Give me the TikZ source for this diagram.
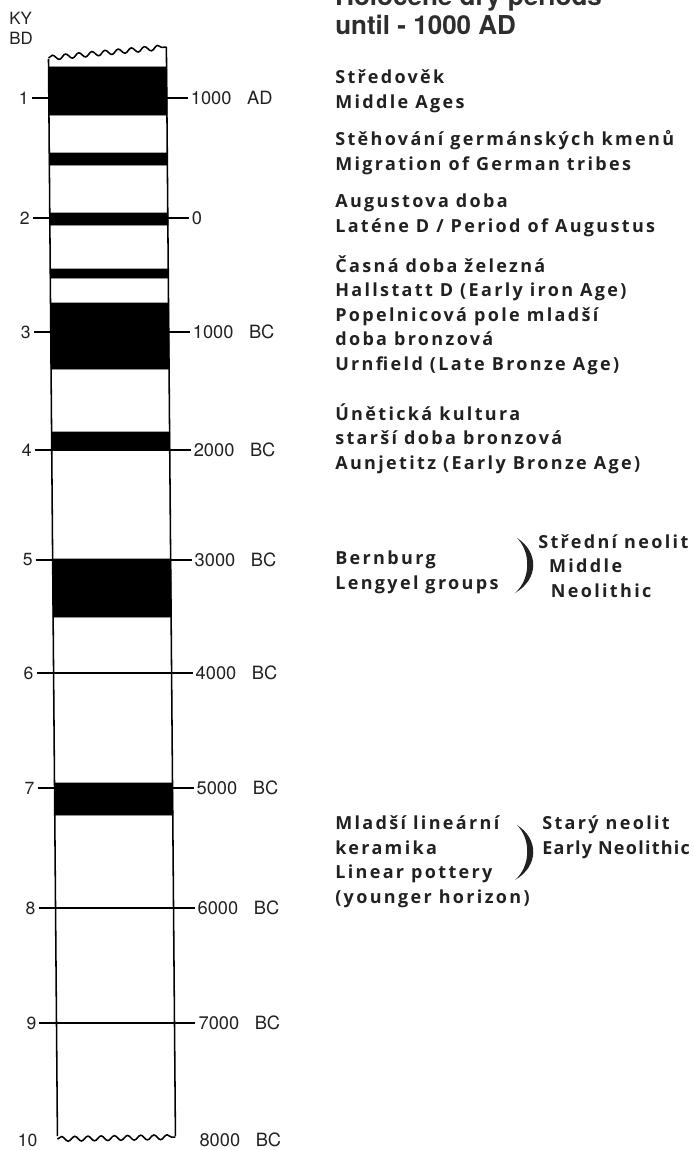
\documentclass[tikz,border=0pt]{standalone}
\usepackage{fontspec}
\setmainfont{TeX Gyre Heros}
\newfontfamily\periodfont{Open Sans}[LetterSpace=13]
\newfontfamily\stagefont{Open Sans}[LetterSpace=7]
\usetikzlibrary{decorations.pathmorphing}
\definecolor{inkgray}{gray}{0.13}
\tikzset{column/.style={draw=black,line width=1.1pt}}
\tikzset{band/.style={fill=black,draw=black,line width=0.6pt}}
\tikzset{tick/.style={draw=black,line width=0.9pt}}
\tikzset{wavy/.style={column,decorate,
                      decoration={snake,segment length=0.33cm,amplitude=0.06cm}}}
\tikzset{kylabel/.style={anchor=east,inner sep=2pt,text=inkgray,
                         font=\fontsize{12.5}{15}\selectfont}}
\tikzset{datelabel/.style={anchor=west,inner sep=2pt,text=inkgray,
                           font=\fontsize{13}{15}\selectfont}}
% base west of a block sits on the baseline of its last line
\tikzset{period/.style={anchor=base west,inner sep=0pt,align=left,text=inkgray,
                        font=\periodfont\bfseries\fontsize{12.8}{17.4}\selectfont}}
\tikzset{bracket/.style={fill=inkgray}}
\newcommand{\closebracket}{\fill[bracket] (0,0) .. controls (22,14) and (22,41) .. (-2,55)
                                .. controls (14,41) and (14,14) .. (0,0) -- cycle;}

\begin{document}
\begin{tikzpicture}[x=0.025cm,y=-0.025cm]
    \useasboundingbox (0,0) rectangle (693,1150);
    % Title, its first line cut by the page edge
    \node[anchor=base west,inner sep=0pt,align=left,text=black!82,
          font=\bfseries\fontsize{18.5}{21.3}\selectfont] (title) at (335,35)
          {Holocene dry periods\\until - 1000 AD};
    % Axis caption
    \node[anchor=north west,inner sep=0pt,align=left,text=inkgray,
          font=\fontsize{12}{14.5}\selectfont] (kybd) at (9,12) {KY\\BD};
    % Column, leaning a little to the right going down
    \begin{scope}[xslant=-0.0083]
        % Dry periods as black bands
        \foreach \t/\b in {67/115,153/165,213/225,269/278,303/369,432/450,559/617,783/815}{%
              \filldraw[band] (48,\t) rectangle (166,\b);
            }
        % Sides and torn ends
        \draw[column] (48,59) -- (48,1136);
        \draw[column] (166,47) -- (166,1136);
        \draw[wavy] (48,58) -- (166,47);
        \draw[wavy] (48,1139) -- (166,1137);
        % Thousands of years BP against calendar dates
        \foreach \y/\n/\e [count=\k] in {98/1000/AD,218/0/{},332/1000/BC,450/2000/BC,
                                         560/3000/BC,673/4000/BC,788/5000/BC,908/6000/BC,
                                         1023/7000/BC}{%
              \node[kylabel] (ky\k) at (31,\y) {\k};
              \node[datelabel] (date\k) at (187,\y) {\n\hspace{0.85em}\e};
              \draw[tick] (ky\k) -- (date\k);
            }
        \node[kylabel] (ky10) at (31,1140) {10};
        \node[datelabel] (date10) at (187,1140) {8000\hspace{0.85em}BC};
    \end{scope}
    % Periods and cultures
    \node[period] (medieval) at (335,108) {Středověk\\Middle Ages};
    \node[period] (migration) at (335,170) {Stěhování germánských kmenů\\Migration of German tribes};
    \node[period] (augustus) at (335,232) {Augustova doba\\Laténe D / Period of Augustus};
    \node[period] (hallstatt) at (335,370) {Časná doba železná\\Hallstatt D (Early iron Age)\\%
                                            Popelnicová pole mladší\\doba bronzová\\Urnfield (Late Bronze Age)};
    \node[period] (aunjetitz) at (335,469) {Únětická kultura\\starší doba bronzová\\Aunjetitz (Early Bronze Age)};
    \node[period] (lengyel) at (335,589) {Bernburg\\Lengyel groups};
    \node[period] (midneo) at (538,597) {Střední neolit\\\hspace*{0.6em}Middle\\\hspace*{0.7em}Neolithic};
    \node[period] (linear) at (335,903) {Mladší lineární\\keramika\\Linear pottery\\(younger horizon)};
    \node[period] (earlyneo) at (542,854) {Starý neolit\\{\stagefont\bfseries Early Neolithic}};
    % Brackets grouping cultures into neolithic stages
    \begin{scope}[shift={(517,538)}]
        \closebracket
    \end{scope}
    \begin{scope}[shift={(517,825)}]
        \closebracket
    \end{scope}
\end{tikzpicture}
\end{document}
